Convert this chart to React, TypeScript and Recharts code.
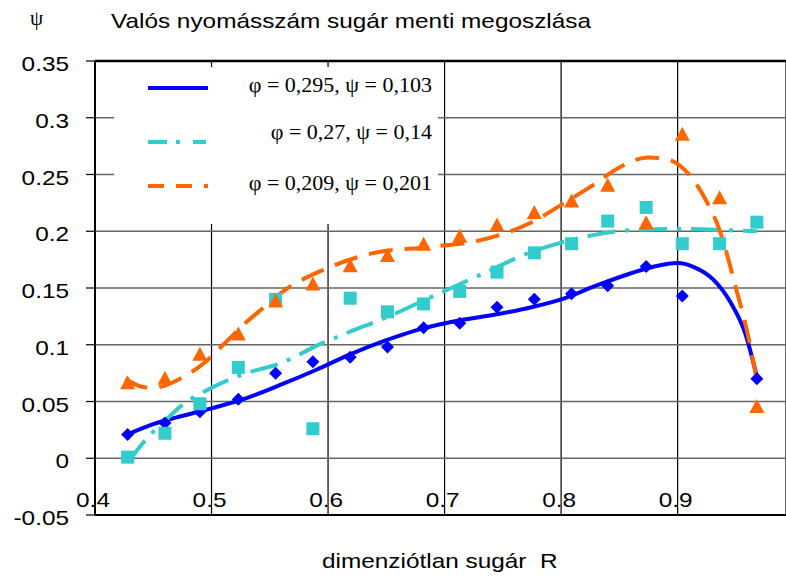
import {
  ComposedChart,
  Line,
  Scatter,
  XAxis,
  YAxis,
  CartesianGrid,
  ReferenceLine,
  Legend,
} from "recharts";

// measured radius positions of the points
const radius = [
  0.428, 0.46, 0.49, 0.523, 0.555, 0.587, 0.619, 0.651, 0.682, 0.713, 0.745,
  0.777, 0.809, 0.84, 0.873, 0.904, 0.936, 0.968,
];
const bluePsi = [
  0.021, 0.031, 0.041, 0.052, 0.075, 0.085, 0.089, 0.098, 0.115, 0.119, 0.133,
  0.14, 0.145, 0.152, 0.169, 0.143, null, 0.07,
];
const cyanPsi = [
  0.001, 0.022, 0.048, 0.08, 0.14, 0.026, 0.141, 0.129, 0.136, 0.147, 0.164,
  0.181, 0.189, 0.209, 0.221, 0.189, 0.189, 0.208,
];
const orangePsi = [
  0.067, 0.071, 0.092, 0.11, 0.139, 0.154, 0.17, 0.179, 0.189, 0.196, 0.206,
  0.217, 0.227, 0.241, 0.208, 0.286, 0.23, 0.046,
];

// trend curves
const blueFitR = [
  0.428, 0.45, 0.47, 0.5, 0.53, 0.56, 0.59, 0.62, 0.65, 0.68, 0.71, 0.74, 0.77,
  0.8, 0.83, 0.86, 0.88, 0.9, 0.915, 0.93, 0.945, 0.958, 0.968,
];
const blueFitPsi = [
  0.021, 0.03, 0.036, 0.044, 0.053, 0.065, 0.078, 0.092, 0.104, 0.114, 0.121,
  0.126, 0.132, 0.14, 0.152, 0.163, 0.169, 0.172, 0.168, 0.158, 0.138, 0.11,
  0.072,
];
const cyanFitR = [
  0.428, 0.445, 0.46, 0.475, 0.5, 0.53, 0.56, 0.59, 0.62, 0.65, 0.68, 0.71,
  0.74, 0.77, 0.8, 0.83, 0.86, 0.9, 0.94, 0.968,
];
const cyanFitPsi = [
  -0.004, 0.018, 0.033, 0.047, 0.062, 0.075, 0.084, 0.099, 0.112, 0.124, 0.138,
  0.152, 0.166, 0.18, 0.19, 0.197, 0.201, 0.202, 0.201, 0.2,
];
const orangeFitR = [
  0.426, 0.44, 0.45, 0.46, 0.473, 0.496, 0.51, 0.53, 0.545, 0.56, 0.596, 0.64,
  0.685, 0.73, 0.773, 0.806, 0.831, 0.848, 0.875, 0.892, 0.915, 0.925, 0.936,
  0.942, 0.949, 0.96, 0.968,
];
const orangeFitPsi = [
  0.07, 0.063, 0.062, 0.064, 0.07, 0.086, 0.1, 0.12, 0.133, 0.146, 0.166, 0.181,
  0.186, 0.192, 0.207, 0.227, 0.243, 0.255, 0.265, 0.263, 0.243, 0.226, 0.201,
  0.181, 0.154, 0.11, 0.069,
];

const xTicks = [0.4, 0.5, 0.6, 0.7, 0.8, 0.9];
const yTicks = [-0.05, 0, 0.05, 0.1, 0.15, 0.2, 0.25, 0.3, 0.35];
const legendLabels = [
  "φ = 0,295, ψ = 0,103",
  "φ = 0,27, ψ = 0,14",
  "φ = 0,209, ψ = 0,201",
];

const BLUE = "#0000ff";
const CYAN = "#33cccc";
const ORANGE = "#ff6600";
const SANS = "'Liberation Sans', Arial, sans-serif";
const SERIF = "'Liberation Serif', 'Times New Roman', serif";
const STRETCH = 1.16; // the original's Arial text is drawn a bit wide

const toPoints = (xs: number[], ys: (number | null)[]) =>
  xs
    .map((x, i) => ({ x, y: ys[i] }))
    .filter((p) => p.y !== null && p.y !== undefined);

const bluePts = toPoints(radius, bluePsi);
const cyanPts = toPoints(radius, cyanPsi);
const orangePts = toPoints(radius, orangePsi);
const blueFit = toPoints(blueFitR, blueFitPsi);
const cyanFit = toPoints(cyanFitR, cyanFitPsi);
const orangeFit = toPoints(orangeFitR, orangeFitPsi);

const Diamond = (p: any) => {
  const { cx, cy } = p;
  if (cx == null || cy == null) return <g />;
  const r = 6.5;
  return (
    <polygon
      points={`${cx},${cy - r} ${cx + r},${cy} ${cx},${cy + r} ${cx - r},${cy}`}
      fill={BLUE}
    />
  );
};

const Square = (p: any) => {
  const { cx, cy } = p;
  if (cx == null || cy == null) return <g />;
  return <rect x={cx - 6.5} y={cy - 6.5} width={13} height={13} fill={CYAN} />;
};

const Triangle = (p: any) => {
  const { cx, cy } = p;
  if (cx == null || cy == null) return <g />;
  return (
    <polygon
      points={`${cx},${cy - 7} ${cx + 7.5},${cy + 7} ${cx - 7.5},${cy + 7}`}
      fill={ORANGE}
    />
  );
};

// wide Arial text
const WideText = ({ x, y, anchor, children }: any) => (
  <text
    transform={`translate(${x},${y}) scale(${STRETCH},1)`}
    x={0}
    y={0}
    textAnchor={anchor || "start"}
    fontFamily={SANS}
    fontSize={21}
    fill="#000"
    style={{ whiteSpace: "pre" }}
  >
    {children}
  </text>
);

const XTick = (p: any) => {
  const { x, y, payload } = p;
  return (
    <WideText x={x - 2} y={y - 8} anchor="middle">
      {String(payload.value)}
    </WideText>
  );
};

const YTick = (p: any) => {
  const { y, payload } = p;
  return (
    <WideText x={69} y={y + 10} anchor="end">
      {String(payload.value)}
    </WideText>
  );
};

const LegendBox = () => {
  const rows = [
    { color: BLUE, dash: undefined, lineY: 21, textY: 25 },
    { color: CYAN, dash: "19 9 4 13 13", lineY: 75, textY: 72 },
    { color: ORANGE, dash: "16 12", lineY: 119, textY: 123 },
  ];
  return (
    <svg width={324} height={157} style={{ display: "block", background: "#fff" }}>
      <rect x={0} y={0} width={324} height={157} fill="#fff" />
      {rows.map((r, i) => (
        <g key={i}>
          <line
            x1={34}
            x2={94}
            y1={r.lineY}
            y2={r.lineY}
            stroke={r.color}
            strokeWidth={4}
            strokeDasharray={r.dash}
          />
          <text
            x={318}
            y={r.textY}
            textAnchor="end"
            fontFamily={SERIF}
            fontSize={22}
            fill="#000"
          >
            {legendLabels[i]}
          </text>
        </g>
      ))}
    </svg>
  );
};

export default function App() {
  return (
    <div
      style={{
        position: "absolute",
        left: 0,
        top: 0,
        width: 786,
        height: 578,
        background: "#fff",
        overflow: "hidden",
      }}
    >
      <ComposedChart
        width={786}
        height={578}
        margin={{ top: 61, right: 0, bottom: 0, left: 0 }}
      >
        <CartesianGrid horizontal={false} stroke="#000" strokeWidth={1.2} />
        <CartesianGrid vertical={false} stroke="#666" strokeWidth={1.5} />
        <XAxis
          dataKey="x"
          type="number"
          domain={[0.4, 0.993]}
          ticks={xTicks}
          allowDataOverflow
          height={63}
          tickLine={false}
          tickSize={0}
          tickMargin={0}
          axisLine={{ stroke: "#000", strokeWidth: 2 }}
          tick={<XTick />}
        />
        <YAxis
          dataKey="y"
          type="number"
          domain={[-0.05, 0.35]}
          ticks={yTicks}
          allowDataOverflow
          width={95}
          tickSize={9}
          tickMargin={16}
          tickLine={{ stroke: "#000", strokeWidth: 1.2 }}
          axisLine={{ stroke: "#000", strokeWidth: 2 }}
          tick={<YTick />}
        />
        <ReferenceLine y={0.35} stroke="#000" strokeWidth={2.5} />
        <Legend
          layout="vertical"
          align="center"
          verticalAlign="middle"
          content={<LegendBox />}
          wrapperStyle={{ left: 114, top: 67, width: 324, height: 157 }}
        />
        <Scatter
          name="blue pts"
          data={bluePts}
          dataKey="y"
          shape={Diamond}
          isAnimationActive={false}
          legendType="none"
        />
        <Scatter
          name="cyan pts"
          data={cyanPts}
          dataKey="y"
          shape={Square}
          isAnimationActive={false}
          legendType="none"
        />
        <Scatter
          name="orange pts"
          data={orangePts}
          dataKey="y"
          shape={Triangle}
          isAnimationActive={false}
          legendType="none"
        />
        <Line
          data={blueFit}
          dataKey="y"
          type="monotone"
          stroke={BLUE}
          strokeWidth={4}
          dot={false}
          activeDot={false}
          isAnimationActive={false}
        />
        <Line
          data={cyanFit}
          dataKey="y"
          type="monotone"
          stroke={CYAN}
          strokeWidth={4}
          strokeDasharray="28 10 4 10"
          dot={false}
          activeDot={false}
          isAnimationActive={false}
        />
        <Line
          data={orangeFit}
          dataKey="y"
          type="monotone"
          stroke={ORANGE}
          strokeWidth={4}
          strokeDasharray="24 12"
          dot={false}
          activeDot={false}
          isAnimationActive={false}
        />
      </ComposedChart>
      <svg
        width={786}
        height={578}
        style={{ position: "absolute", left: 0, top: 0, pointerEvents: "none" }}
      >
        <text x={30} y={25} fontFamily={SERIF} fontSize={21} fill="#000">
          ψ
        </text>
        <WideText x={111} y={28}>
          Valós nyomásszám sugár menti megoszlása
        </WideText>
        <WideText x={322} y={568}>
          dimenziótlan sugár  R
        </WideText>
      </svg>
    </div>
  );
}
